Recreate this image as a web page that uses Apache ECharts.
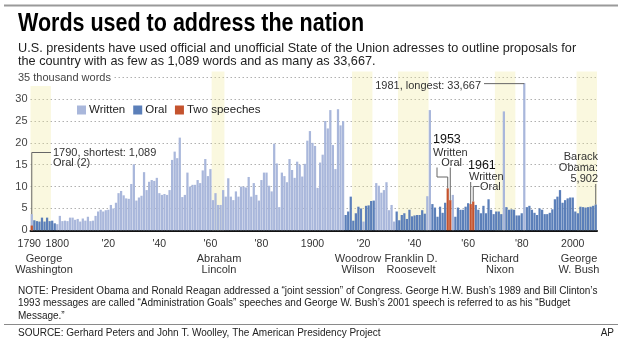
<!DOCTYPE html>
<html>
<head>
<meta charset="utf-8">
<script src="https://cdn.jsdelivr.net/npm/echarts@6/dist/echarts.min.js"></script>
<style>
html,body{margin:0;padding:0;background:#ffffff;}
#chart{width:622px;height:342px;}
</style>
</head>
<body>
<div id="chart"></div>
<script>
// ================= DATA (thousands of words, one slot per address year) =================
const words = [
  // 1790 (two speeches, shortest 1,089), 1791-1799
  1.089, 2.3, 2.1, 2.0, 2.9, 2.0, 2.9, 2.1, 2.2, 1.6,
  // 1800-1809
  1.4, 3.3, 2.1, 2.2, 2.1, 2.9, 2.9, 2.4, 2.6, 2.0,
  // 1810-1819
  2.7, 2.2, 3.1, 2.1, 2.2, 3.3, 4.3, 4.7, 4.3, 4.6,
  // 1820-1829
  4.7, 5.8, 5.0, 6.3, 8.5, 9.0, 8.0, 7.3, 7.2, 10.6,
  // 1830-1839
  15.1, 6.8, 7.5, 7.9, 13.3, 9.2, 11.1, 11.5, 11.3, 12.0,
  // 1840-1849
  8.5, 8.1, 8.3, 8.1, 9.2, 16.1, 18.0, 16.5, 21.2, 7.6,
  // 1850-1859
  8.1, 13.2, 10.0, 10.4, 10.4, 11.5, 10.8, 13.7, 16.3, 12.4,
  // 1860-1869
  14.0, 6.9, 8.5, 5.8, 5.8, 9.2, 7.7, 11.9, 7.7, 6.9,
  // 1870-1879
  8.9, 7.7, 10.0, 10.0, 9.8, 12.2, 7.7, 10.8, 8.1, 6.8,
  // 1880-1889
  11.5, 13.2, 13.2, 10.2, 8.9, 19.8, 15.3, 5.3, 13.2, 12.4,
  // 1890-1899
  11.0, 16.3, 13.8, 12.0, 15.7, 15.0, 12.3, 15.2, 20.5, 22.7,
  // 1900-1909
  20.0, 19.3, 9.7, 15.5, 17.3, 25.0, 23.3, 27.5, 19.5, 14.0,
  // 1910-1919
  27.7, 24.0, 25.0, 3.5, 4.3, 7.7, 2.2, 3.9, 5.4, 5.0,
  // 1920-1929
  2.0, 5.6, 5.7, 6.7, 6.8, 10.8, 10.2, 8.6, 9.2, 11.0,
  // 1930-1939
  4.6, 5.8, 2.0, 4.3, 2.3, 3.5, 3.9, 2.6, 4.7, 3.2,
  // 1940-1949
  3.4, 3.5, 3.5, 4.6, 3.8, 7.8, 27.5, 6.0, 5.2, 3.1,
  // 1950-1952, 1953 written, 1953 oral
  5.4, 4.0, 6.3, 9.6, 6.9,
  // 1954-1960, 1961 written, 1961 oral
  8.1, 3.1, 5.2, 4.7, 4.7, 5.4, 6.2, 6.0, 6.6,
  // 1962-1969
  5.8, 4.7, 3.9, 5.6, 3.9, 7.1, 4.7, 3.7,
  // 1970-1979
  4.3, 4.3, 3.7, 27.2, 5.3, 4.7, 4.8, 4.7, 3.4, 3.4,
  // 1980-1989
  3.9, 33.667, 5.3, 5.6, 4.7, 4.0, 3.5, 5.0, 4.7, 3.7,
  // 1990-1999
  3.7, 4.0, 4.8, 7.1, 7.7, 9.2, 6.3, 6.9, 7.3, 7.5,
  // 2000-2009
  7.5, 4.3, 3.9, 5.4, 5.3, 5.2, 5.3, 5.4, 5.6, 5.902
];
// type of each slot, as runs: T = two speeches, W = written, O = oral
const kindRuns = [
  ['T',1],['O',9],['W',113],['O',7],['W',1],['O',4],['W',8],['O',12],['W',2],
  ['O',6],['T',2],['W',1],['O',6],['T',2],['O',11],['W',1],['O',7],['W',1],['O',28]
];
// total height of the 1790 bar (the two 1790 speeches)
const washington1790Total = [3.7];

// categories: one slot per year, 1953 and 1961 have two slots
const slotNames = [];
function addYears(a, b) { for (let y = a; y <= b; y++) slotNames.push(String(y)); }
addYears(1790, 1953); slotNames.push('1953 (2)');
addYears(1954, 1961); slotNames.push('1961 (2)');
addYears(1962, 2009);

const tickCategories = ['1790','1800','1820','1840','1860','1880','1900','1920','1940','1960','1980','2000'];
const tickLabels = ['1790','1800',"'20","'40","'60","'80",'1900',"'20","'40","'60","'80",'2000'];

const presidentBands = [['1790','1797'],['1861','1865'],['1916','1923'],['1934','1945'],['1970','1977'],['2002','2009']];
const presidentNames = ['George\nWashington','Abraham\nLincoln','Woodrow\nWilson','Franklin D.\nRoosevelt','Richard\nNixon','George\nW. Bush'];

// ================= BUILD =================
const FONT = "'Liberation Sans', Arial, Helvetica, sans-serif";
const C_WRITTEN = '#a9b7db', C_ORAL = '#5b7fb9', C_TWO = '#c4532e';

const kinds = [];
kindRuns.forEach(([k, n]) => { for (let i = 0; i < n; i++) kinds.push(k); });
const writtenData = words.map((v, i) => kinds[i] === 'W' ? v : null);
writtenData[0] = washington1790Total[0];
const oralData = words.map((v, i) => kinds[i] === 'O' ? v : null);
const twoData = words.map((v, i) => kinds[i] === 'T' ? v : null);

const tickIdx = tickCategories.map(c => slotNames.indexOf(c));
const tickText = {};
tickIdx.forEach((ix, k) => { tickText[ix] = tickLabels[k]; });
const bandData = presidentBands.map(([a, b]) => [slotNames.indexOf(a), 0, slotNames.indexOf(b)]);

const chart = echarts.init(document.getElementById('chart'), null, {renderer: 'canvas', width: 622, height: 342});

const option = {
  animation: false,
  backgroundColor: '#ffffff',
  textStyle: {fontFamily: FONT},
  grid: {left: 30.5, right: 25, top: 77.3, bottom: 111.7, containLabel: false},
  legend: {
    data: ['Written', 'Oral', 'Two speeches'],
    left: 77, top: 104, padding: 0,
    itemWidth: 9, itemHeight: 9, itemGap: 8,
    icon: 'rect',
    textStyle: {fontSize: 11.5, color: '#222', fontFamily: FONT, padding: [0, 0, 0, -2]}
  },
  xAxis: {
    type: 'category',
    data: slotNames,
    boundaryGap: true,
    axisLine: {lineStyle: {color: '#111', width: 2}},
    axisTick: {
      interval: (i) => tickText[i] !== undefined,
      length: 5, lineStyle: {color: '#222', width: 1}
    },
    axisLabel: {
      interval: (i) => tickText[i] !== undefined,
      formatter: (v, i) => i === 0 ? '{first|' + tickText[i] + '}' : (tickText[i] || ''),
      rich: {first: {fontSize: 10.5, color: '#333', fontFamily: FONT, padding: [0, 5, 0, 0]}},
      fontSize: 10.5, color: '#333', margin: 8, fontFamily: FONT
    },
    splitLine: {show: false}
  },
  yAxis: {
    type: 'value', min: 0, max: 35, interval: 5,
    axisLine: {show: false}, axisTick: {show: false},
    axisLabel: {formatter: v => v === 35 ? '' : String(v), fontSize: 11, color: '#444', margin: 3, fontFamily: FONT},
    splitLine: {lineStyle: {color: '#b0b0b0', type: [1.5, 2.5], width: 1}}
  },
  series: [
    {
      type: 'custom', name: 'bands', silent: true, z: 1, clip: false,
      data: bandData, encode: {x: 0, y: 1},
      renderItem: function (params, api) {
        const s = api.value(0), e = api.value(2);
        const w = api.size([1, 0])[0];
        const p0 = api.coord([s, 36.3]);
        const p1 = api.coord([e, 0]);
        return {type: 'rect', shape: {x: p0[0] - w / 2, y: p0[1], width: p1[0] - p0[0] + w, height: p1[1] - p0[1]},
          style: {fill: 'rgba(240,232,150,0.3)'}};
      }
    },
    {name: 'Written', type: 'bar', data: writtenData, barGap: '-100%', barCategoryGap: '12%', itemStyle: {color: C_WRITTEN}, z: 2},
    {name: 'Oral', type: 'bar', data: oralData, barGap: '-100%', barCategoryGap: '12%', itemStyle: {color: C_ORAL}, z: 2},
    {name: 'Two speeches', type: 'bar', data: twoData, barGap: '-100%', barCategoryGap: '12%', itemStyle: {color: C_TWO}, z: 3}
  ]
};
chart.setOption(option);

// ================= TEXT & ANNOTATIONS =================
function T(text, x, y, o) {
  o = o || {};
  const el = {
    type: 'text', x: x, y: y, silent: true, z: 100,
    scaleX: o.scaleX || 1,
    style: {
      text: text, fill: o.color || '#333', fontSize: o.size || 11, fontFamily: FONT,
      fontWeight: o.weight || 'normal', align: o.align || 'left', verticalAlign: 'middle',
      lineHeight: o.lineHeight || undefined
    }
  };
  if (o.bg) { el.style.backgroundColor = o.bg; el.style.padding = o.pad || [2, 3]; }
  return el;
}
function L(points, o) {
  o = o || {};
  return {type: 'polyline', silent: true, z: 99, shape: {points: points},
    style: {stroke: o.color || '#666', lineWidth: o.width || 1, fill: null}};
}
const P = (slotName, v) => chart.convertToPixel({xAxisIndex: 0, yAxisIndex: 0}, [slotNames.indexOf(slotName), v]);

const g = [];
// top rule and bottom rule
g.push({type: 'line', silent: true, shape: {x1: 4, y1: 5.5, x2: 618, y2: 5.5}, style: {stroke: '#9a9a9a', lineWidth: 2}});
g.push({type: 'line', silent: true, shape: {x1: 4, y1: 324.5, x2: 618, y2: 324.5}, style: {stroke: '#8a8a8a', lineWidth: 1.2}});
// title & subtitle
g.push(T('Words used to address the nation', 18, 24, {size: 25, weight: 'bold', color: '#000', scaleX: 0.86}));
g.push(T('U.S. presidents have used official and unofficial State of the Union adresses to outline proposals for', 18, 48, {size: 12.7, color: '#222'}));
g.push(T('the country with as few as 1,089 words and as many as 33,667.', 18, 61.7, {size: 12.7, color: '#222'}));
// y-axis unit label
g.push(T('35 thousand words', 16, 77.5, {size: 11, color: '#444', bg: '#ffffff', pad: [3, 3, 3, 2]}));
// president labels
const nameX = [44, 219, 358, 411, 500, 579];
presidentNames.forEach((n, i) => g.push(T(n, nameX[i], 264.5, {size: 11, color: '#333', align: 'center', lineHeight: 10.5})));
// notes & source
g.push(T('NOTE: President Obama and Ronald Reagan addressed a \u201cjoint session\u201d of Congress. George H.W. Bush\u2019s 1989 and Bill Clinton\u2019s', 18, 291, {size: 10, color: '#222'}));
g.push(T('1993 messages are called \u201cAdministration Goals\u201d speeches and George W. Bush\u2019s 2001 speech is referred to as his \u201cBudget', 18, 303.5, {size: 10, color: '#222'}));
g.push(T('Message.\u201d', 18, 316, {size: 10, color: '#222'}));
g.push(T('SOURCE: Gerhard Peters and John T. Woolley, The American Presidency Project', 18, 333, {size: 10, color: '#222'}));
g.push(T('AP', 614, 333, {size: 10, color: '#222', align: 'right'}));

// 1790 annotation
const b1790 = P('1790', washington1790Total[0]);
g.push(L([[b1790[0], b1790[1]], [b1790[0], 152.5], [51, 152.5]]));
g.push(T('1790, shortest: 1,089', 53, 152.5, {size: 11}));
g.push(T('Oral (2)', 53, 163, {size: 11}));

// 1981 annotation
const b1981 = P('1981', words[slotNames.indexOf('1981')]);
g.push(L([[484, b1981[1] + 0.5], [b1981[0], b1981[1] + 0.5]]));
g.push(T('1981, longest: 33,667', 481, 85.5, {size: 11, align: 'right'}));

// 1953 annotation
const b53a = P('1953', words[slotNames.indexOf('1953')]);
const b53b = P('1953 (2)', words[slotNames.indexOf('1953 (2)')]);
g.push(T('1953', 433, 139.5, {size: 12.5, color: '#111'}));
g.push(T('Written', 433, 152.5, {size: 11}));
g.push(T('Oral', 462, 162.5, {size: 11, align: 'right'}));
g.push(L([[437, 167.5], [437, 177], [b53a[0], 177], [b53a[0], b53a[1]]]));
g.push(L([[b53b[0], 167.5], [b53b[0], b53b[1]]]));

// 1961 annotation
const b61a = P('1961', words[slotNames.indexOf('1961')]);
const b61b = P('1961 (2)', words[slotNames.indexOf('1961 (2)')]);
g.push(T('1961', 468, 165.5, {size: 12.5, color: '#111'}));
g.push(T('Written', 469, 176.5, {size: 11}));
g.push(T('Oral', 480, 186.5, {size: 11}));
g.push(L([[b61a[0], 182], [b61a[0], b61a[1]]]));
g.push(L([[479, 186.5], [b61b[0], 186.5], [b61b[0], b61b[1]]]));

// Obama annotation
const b09 = P('2009', words[slotNames.indexOf('2009')]);
g.push(T('Barack', 598, 157, {size: 11, align: 'right'}));
g.push(T('Obama:', 598, 168, {size: 11, align: 'right'}));
g.push(T('5,902', 598, 178.5, {size: 11, align: 'right'}));
g.push(L([[b09[0], 184], [b09[0], b09[1]]]));

chart.setOption({graphic: {elements: g}});
</script>
</body>
</html>
